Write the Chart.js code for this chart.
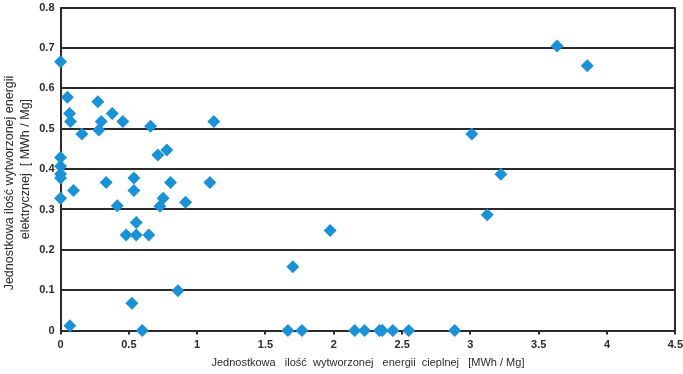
<!DOCTYPE html>
<html>
<head>
<meta charset="utf-8">
<script src="https://cdn.jsdelivr.net/npm/chart.js@4"></script>
<style>
  html, body { margin: 0; padding: 0; background: #fff; }
  #wrap { width: 683px; height: 374px; overflow: hidden; position: relative; }
  #chart { position: absolute; left: 0; top: -5px; }
</style>
</head>
<body>
<div id="wrap"><canvas id="chart" width="687" height="379"></canvas></div>
<script>
// heat (x) and electricity (y) per Mg
const heatValues = [
    0, 0.05, 0.066, 0.073, 0.156, 0.273, 0.298, 0.28, 0.378, 0.456, 0.659, 1.122,
    0, 0, 0, 0, 0, 0.095, 0.334, 0.415, 0.537, 0.537, 0.554, 0.48, 0.554, 0.646,
    0.712, 0.778, 0.805, 0.751, 0.727, 0.915, 1.093, 0.859, 0.522, 0.068, 0.598,
    1.70, 1.973, 1.664, 1.767, 2.153, 2.225, 2.335, 2.355, 2.432, 2.548, 2.885,
    3.123, 3.634, 3.855, 3.01, 3.223
];
const electricityValues = [
    0.666, 0.578, 0.538, 0.518, 0.487, 0.567, 0.518, 0.497, 0.538, 0.518, 0.506, 0.518,
    0.429, 0.407, 0.388, 0.378, 0.328, 0.347, 0.367, 0.309, 0.378, 0.347, 0.268, 0.237, 0.237, 0.237,
    0.435, 0.447, 0.367, 0.328, 0.308, 0.318, 0.367, 0.099, 0.068, 0.012, 0,
    0.158, 0.248, 0, 0, 0, 0, 0, 0, 0, 0, 0,
    0.287, 0.705, 0.656, 0.487, 0.387
];
const xTitle = 'Jednostkowa   ilość  wytworzonej   energii  cieplnej   [MWh / Mg]';
// trailing spaces push the first line a little down, as in the original
const yTitle = ['Jednostkowa ilość wytworzonej energii        ', 'elektrycznej  [ MWh / Mg]'];

const FONT = "'Liberation Sans Narrow', 'Arial Narrow', 'Liberation Sans', Arial, sans-serif";
const DARK = '#2b2b2b';

let points = heatValues.map((x, i) => { return { x: x, y: electricityValues[i] } });
let fmt = v => String(+Number(v).toFixed(2));

let ctx = document.getElementById('chart');
let myChart = new Chart(ctx, {
    type: 'scatter',
    data: {
        datasets: [
            {
                data: points,
                clip: false,
                pointStyle: 'rectRot',
                pointRadius: 6.5,
                pointHoverRadius: 6.5,
                backgroundColor: '#1b92d8',
                borderColor: '#1b92d8',
                borderWidth: 0
            }
        ]
    },
    options: {
        responsive: false,
        animation: false,
        events: [],
        layout: { padding: { top: 0, right: 0, left: 2, bottom: 0 } },
        plugins: {
            legend: { display: false },
            tooltip: { enabled: false }
        },
        scales: {
            x: {
                type: 'linear',
                min: 0,
                max: 4.5,
                ticks: {
                    stepSize: 0.5,
                    color: DARK,
                    font: { family: FONT, size: 11, weight: 'bold' },
                    padding: 4,
                    maxRotation: 0,
                    callback: fmt
                },
                grid: {
                    drawOnChartArea: true,
                    color: c => (c.index === 0 || c.index === 9) ? DARK : 'rgba(0,0,0,0)',
                    tickColor: DARK,
                    tickLength: 4,
                    lineWidth: 2
                },
                border: { display: true, color: DARK, width: 2 },
                title: {
                    display: true,
                    text: xTitle,
                    color: DARK,
                    font: { family: FONT, size: 11 },
                    padding: { top: 1, bottom: 4 }
                }
            },
            y: {
                min: 0,
                max: 0.8,
                ticks: {
                    stepSize: 0.1,
                    color: DARK,
                    font: { family: FONT, size: 11, weight: 'bold' },
                    padding: 6,
                    callback: fmt
                },
                grid: {
                    color: DARK,
                    lineWidth: 2,
                    drawTicks: false
                },
                border: { display: true, color: DARK, width: 2 },
                title: {
                    display: true,
                    text: yTitle,
                    color: DARK,
                    font: { family: FONT, size: 12.5, lineHeight: 1.25 },
                    padding: { top: 0, bottom: 0 }
                }
            }
        }
    }
});
</script>
</body>
</html>
